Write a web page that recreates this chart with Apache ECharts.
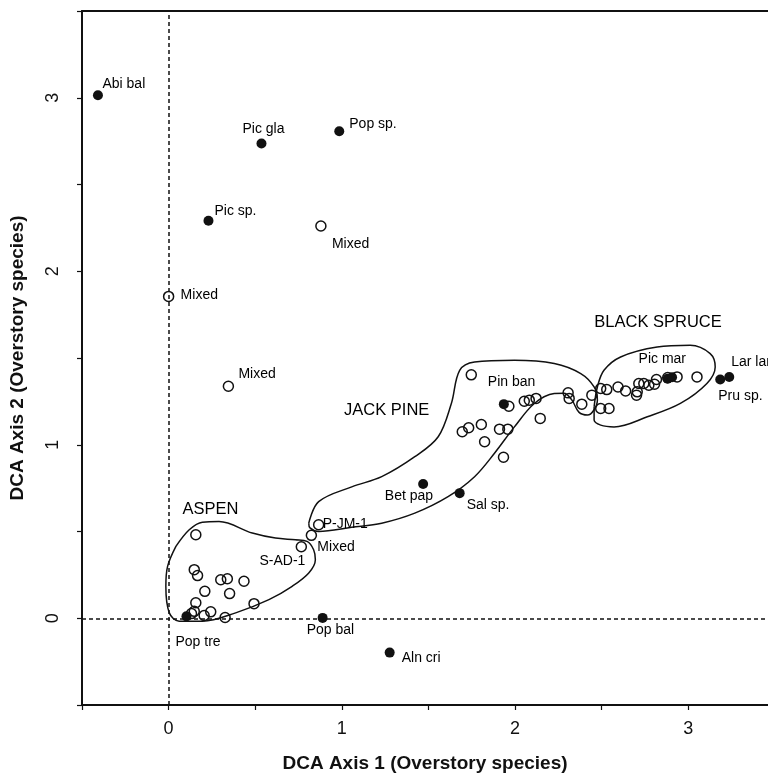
<!DOCTYPE html>
<html>
<head>
<meta charset="utf-8">
<script src="https://cdn.jsdelivr.net/npm/echarts@6/dist/echarts.min.js"></script>
<style>
html,body{margin:0;padding:0;background:#fff;}
#chart{width:768px;height:778px;}
</style>
</head>
<body>
<div id="chart"></div>
<script>
// ---- Data ----
// Filled points: overstory species scores
const speciesNames = ['Abi bal','Pic gla','Pop sp.','Pic sp.','Pop tre','Pop bal','Aln cri','Bet pap','Sal sp.','Pin ban','Pic mar','','Pru sp.','Lar lar'];
const speciesX = [-0.408, 0.536, 0.985, 0.230, 0.103, 0.889, 1.276, 1.469, 1.680, 1.935, 2.880, 2.906, 3.184, 3.236];
const speciesY = [ 3.014, 2.736, 2.807, 2.291, 0.011, 0.002, -0.198, 0.774, 0.721, 1.234, 1.380, 1.389, 1.376, 1.391];

// Open points: site scores (unlabelled)
const siteX = [0.157,0.148,0.167,0.301,0.339,0.435,0.209,0.352,0.157,0.493,0.148,0.243,0.205,0.326,0.132,
  1.747,1.964,2.053,2.082,2.121,2.145,1.695,1.732,1.805,1.910,1.958,1.824,1.933,2.306,2.312,2.385,2.443,
  2.494,2.529,2.494,2.542,2.594,2.638,2.705,2.714,2.701,2.743,2.772,2.816,2.805,2.881,2.935,3.050];
const siteY = [0.481,0.280,0.246,0.222,0.228,0.213,0.155,0.142,0.089,0.084,0.040,0.037,0.016,0.004,0.027,
  1.403,1.222,1.251,1.257,1.267,1.152,1.075,1.098,1.117,1.090,1.090,1.017,0.928,1.299,1.267,1.234,1.286,
  1.324,1.318,1.209,1.209,1.333,1.310,1.305,1.353,1.286,1.353,1.343,1.376,1.349,1.387,1.391,1.391];

// Open points with labels
const labeledSiteNames = ['Mixed','Mixed','Mixed','S-AD-1','Mixed','P-JM-1'];
const labeledSiteX = [0.879, 0.000, 0.345, 0.766, 0.824, 0.866];
const labeledSiteY = [2.261, 1.855, 1.337, 0.412, 0.478, 0.539];

// Group names and their anchor positions in axis units
const groupNames = ['ASPEN','JACK PINE','BLACK SPRUCE'];
const groupX = [0.241, 1.259, 2.825];
const groupY = [0.629, 1.199, 1.702];

// Axis ticks and labels
const tickValues = [-0.5, 0, 0.5, 1, 1.5, 2, 2.5, 3, 3.5];
const tickLabels = [0, 1, 2, 3];

// Group outlines (axis units)
const aspenHull = [[0.042,0.414],[0.119,0.510],[0.195,0.554],[0.291,0.557],[0.483,0.491],[0.617,0.462],[0.732,0.452],[0.799,0.443],[0.837,0.395],[0.847,0.337],[0.809,0.261],[0.713,0.184],[0.579,0.107],[0.387,0.031],[0.195,-0.017],[0.061,-0.017],[0.004,0.031],[-0.016,0.184],[-0.006,0.299],[0.042,0.414]];
const jackPineHull = [[0.809,0.548],[0.866,0.672],[1.057,0.757],[1.230,0.816],[1.421,0.931],[1.556,1.046],[1.632,1.238],[1.680,1.429],[1.766,1.477],[1.996,1.487],[2.226,1.468],[2.379,1.410],[2.456,1.333],[2.475,1.257],[2.454,1.199],[2.418,1.171],[2.368,1.188],[2.328,1.257],[2.282,1.297],[2.226,1.295],[2.111,1.238],[1.996,1.103],[1.881,0.951],[1.766,0.816],[1.613,0.701],[1.421,0.606],[1.230,0.548],[1.057,0.524],[0.866,0.500],[0.816,0.521],[0.809,0.548]];
const blackSpruceHull = [[2.456,1.218],[2.456,1.142],[2.494,1.113],[2.571,1.103],[2.763,1.161],[2.954,1.238],[3.107,1.353],[3.155,1.448],[3.126,1.525],[3.011,1.573],[2.820,1.563],[2.609,1.506],[2.513,1.429],[2.475,1.333],[2.456,1.218]];

// ---- Label placement (style, not data): [dx, dy, align] ----
const speciesLabelPlace = {
  'Abi bal':[4.5,-11,'left'], 'Pic gla':[-19,-14,'left'], 'Pop sp.':[10,-7.5,'left'],
  'Pic sp.':[6,-10,'left'], 'Pop tre':[-11,26,'left'], 'Pop bal':[-16,12.5,'left'],
  'Aln cri':[12,6,'left'], 'Bet pap':[10,12,'right'], 'Sal sp.':[7,11.5,'left'],
  'Pin ban':[-16,-22,'left'], 'Pic mar':[-29,-19.5,'left'], 'Pru sp.':[-2,17,'left'],
  'Lar lar':[2,-15,'left']
};
const siteLabelPlace = [[11,18.5,'left'],[12,-1,'left'],[10,-12,'left'],[4,14.5,'right'],[6,12,'left'],[4,-1,'left']];

const FONT = "'Liberation Sans', Arial, Helvetica, sans-serif";
const INK = '#111';

function labelFor(text, place) {
  if (!text || !place) return { show: false };
  return {
    show: true, formatter: text, position: 'inside',
    align: place[2], verticalAlign: 'middle', offset: [place[0], place[1]],
    color: '#000', opacity: 1, fontFamily: FONT, fontSize: 14
  };
}

const speciesData = speciesNames.map((n, i) => ({
  value: [speciesX[i], speciesY[i]], label: labelFor(n, speciesLabelPlace[n])
}));
const siteData = siteX.map((x, i) => [x, siteY[i]]);
const labeledSiteData = labeledSiteNames.map((n, i) => ({
  value: [labeledSiteX[i], labeledSiteY[i]], label: labelFor(n, siteLabelPlace[i])
}));
const groupData = groupNames.map((n, i) => ({ value: [groupX[i], groupY[i]], name: n }));

function hullSeries(pts) {
  return {
    type: 'line', data: pts, smooth: 0.35, symbol: 'none', silent: true,
    lineStyle: { color: INK, width: 1.5 }, z: 1
  };
}

const XMAX = -0.5 + (768 - 79) / 174;

const chart = echarts.init(document.getElementById('chart'), null, { renderer: 'canvas' });
chart.setOption({
  animation: false,
  backgroundColor: '#fff',
  grid: { left: 79, top: 11, right: 0, bottom: 72 },
  xAxis: [{
    type: 'value', min: -0.5, max: XMAX,
    axisLine: { show: true, onZero: false, lineStyle: { color: INK, width: 2 } },
    axisTick: { show: true, length: 5, customValues: tickValues, lineStyle: { color: INK, width: 1.2 } },
    axisLabel: { customValues: tickLabels, color: INK, fontFamily: FONT, fontSize: 18, margin: 15 },
    splitLine: { show: false },
    name: 'DCA Axis 1 (Overstory species)', nameLocation: 'middle', nameGap: 49,
    nameTextStyle: { color: INK, fontFamily: FONT, fontSize: 19, fontWeight: 'bold' }
  }, {
    type: 'value', position: 'top', min: -0.5, max: XMAX,
    axisLine: { show: true, onZero: false, lineStyle: { color: INK, width: 2 } },
    axisTick: { show: false }, axisLabel: { show: false }, splitLine: { show: false }
  }],
  yAxis: {
    type: 'value', min: -0.5, max: 3.5,
    axisLine: { show: true, onZero: false, lineStyle: { color: INK, width: 2 } },
    axisTick: { show: true, length: 5, customValues: tickValues, lineStyle: { color: INK, width: 1.2 } },
    axisLabel: { customValues: tickLabels, rotate: 90, color: INK, fontFamily: FONT, fontSize: 18, margin: 20 },
    splitLine: { show: false },
    name: 'DCA Axis 2 (Overstory species)', nameLocation: 'middle', nameGap: 55,
    nameTextStyle: { color: INK, fontFamily: FONT, fontSize: 19, fontWeight: 'bold' }
  },
  series: [
    hullSeries(aspenHull),
    hullSeries(jackPineHull),
    hullSeries(blackSpruceHull),
    {
      type: 'scatter', data: siteData, symbol: 'circle', symbolSize: 10, z: 3,
      itemStyle: { color: 'rgba(255,255,255,0)', borderColor: INK, borderWidth: 1.5, opacity: 1 },
      markLine: {
        silent: true, symbol: ['none', 'none'], label: { show: false },
        lineStyle: { color: INK, type: [4, 3], width: 1.5, opacity: 1 },
        data: [{ xAxis: 0 }, { yAxis: 0 }]
      }
    },
    {
      type: 'scatter', data: labeledSiteData, symbol: 'circle', symbolSize: 10, z: 3,
      itemStyle: { color: 'rgba(255,255,255,0)', borderColor: INK, borderWidth: 1.5, opacity: 1 }
    },
    {
      type: 'scatter', data: speciesData, symbol: 'circle', symbolSize: 10, z: 4,
      itemStyle: { color: INK, borderWidth: 0, opacity: 1 }
    },
    {
      type: 'scatter', data: groupData, symbolSize: 0, z: 5, silent: true,
      itemStyle: { opacity: 1 },
      label: {
        show: true, formatter: p => p.name, position: 'inside', align: 'center', verticalAlign: 'middle',
        color: '#000', fontFamily: FONT, fontSize: 16.5
      }
    }
  ]
});
</script>
</body>
</html>
